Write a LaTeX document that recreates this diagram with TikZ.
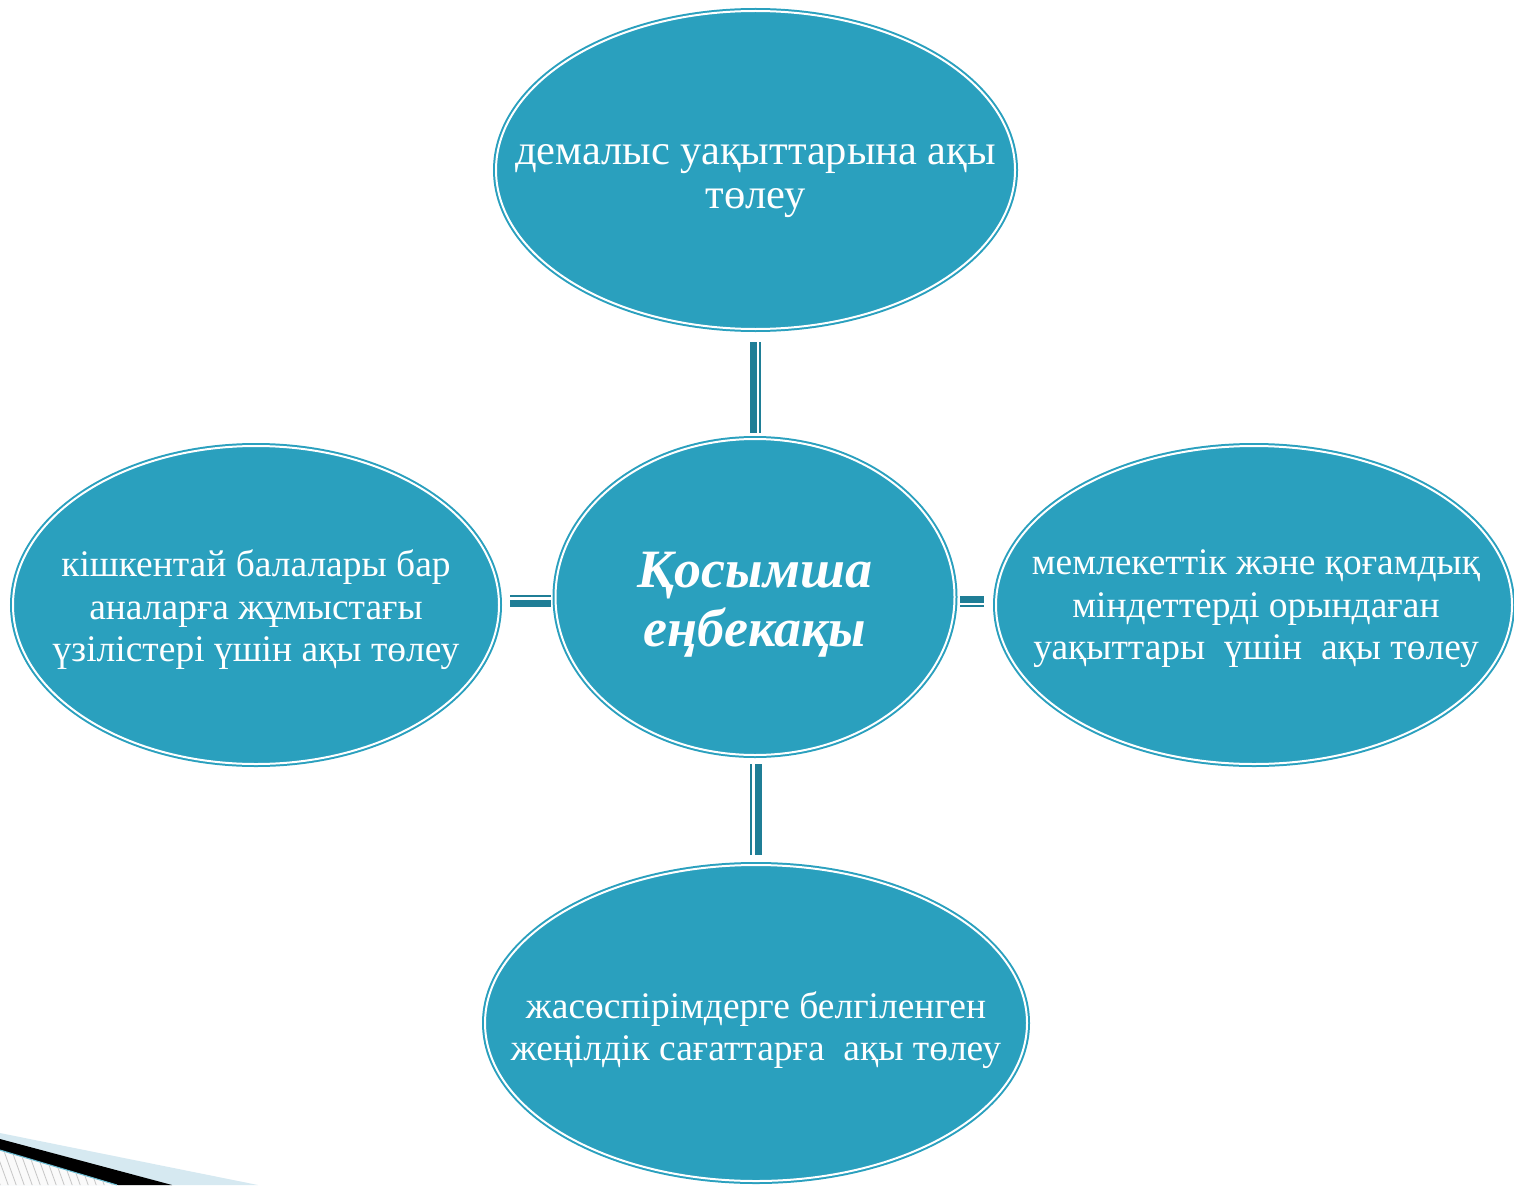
\documentclass[tikz,border=0pt]{standalone}
\usepackage{fontspec}
\setmainfont{Liberation Serif}
\usetikzlibrary{shapes.geometric}
\definecolor{elfill}{HTML}{2AA0BE}
\definecolor{conncol}{HTML}{1F7E96}
\definecolor{wedgeblue}{HTML}{D6E9F1}
\tikzset{
  oval/.style={ellipse, fill=elfill, draw=elfill, double=white, double distance=2pt, line width=2pt, inner sep=0pt},
  ovaltext/.style={text=white, align=center, font=\fontsize{37.5}{42.5}\selectfont, inner sep=0pt},
  toptextstyle/.style={text=white, align=center, font=\fontsize{42.5}{43.5}\selectfont, inner sep=0pt},
  centertext/.style={text=white, align=center, font=\fontsize{54}{59}\selectfont\bfseries\itshape, inner sep=0pt},
  thickline/.style={draw=conncol, line width=7pt},
  thinline/.style={draw=conncol, line width=2.5pt},
}
\begin{document}
\begin{tikzpicture}[x=1pt,y=-1pt]
\useasboundingbox (0,0) rectangle (1514,1185);
% bottom-left decoration
\fill[wedgeblue] (0,1133) -- (258,1185) -- (0,1185) -- cycle;
\fill[black] (0,1139) -- (172,1185) -- (118,1185) -- (0,1150) -- cycle;
\begin{scope}
\clip (0,1151) -- (115,1185) -- (0,1185) -- cycle;
\fill[white!96!gray] (0,1151) -- (115,1185) -- (0,1185) -- cycle;
\foreach \i in {-40,-32,...,120} {
  \draw[gray!45, line width=0.8pt] (\i,1140) -- (\i+18,1190);
}
\end{scope}
\draw[elfill!70, line width=1pt] (0,1150) -- (117,1185);

% ellipses
\node[oval, minimum width=519pt, minimum height=318pt] (top) at (755.5,170) {};
\node[oval, minimum width=399pt, minimum height=316pt] (cen) at (755,597) {};
\node[oval, minimum width=486pt, minimum height=318pt] (lft) at (256,605) {};
\node[oval, minimum width=516pt, minimum height=318pt] (rgt) at (1254,605) {};
\node[oval, minimum width=542pt, minimum height=316pt] (bot) at (756,1023) {};

% texts
\node[toptextstyle] (toptext) at (755.5,181) {демалыс уақыттарына ақы\\төлеу};
\node[centertext] (centext) at (755,605) {Қосымша\\еңбекақы};
\node[ovaltext] (lfttext) at (256,610) {кішкентай балалары бар\\аналарға жұмыстағы\\үзілістері үшін ақы төлеу};
\node[ovaltext] (rgttext) at (1256,609) {мемлекеттік және қоғамдық\\міндеттерді орындаған\\уақыттары\ \ үшін\ \ ақы төлеу};
\node[ovaltext] (bottext) at (756,1030) {жасөспірімдерге белгіленген\\жеңілдік сағаттарға\ \ ақы төлеу};

% connectors (thick-thin double lines)
% top
\draw[thickline] ([xshift=-2pt,yshift=-12pt]top.south) -- ([xshift=-1.5pt,yshift=5pt]cen.north);
\draw[thinline] ([xshift=4.5pt,yshift=-12pt]top.south) -- ([xshift=5pt,yshift=5pt]cen.north);
% bottom
\draw[thinline] ([xshift=-4pt,yshift=-8pt]cen.south) -- ([xshift=-5pt,yshift=9pt]bot.north);
\draw[thickline] ([xshift=3pt,yshift=-8pt]cen.south) -- ([xshift=2pt,yshift=9pt]bot.north);
% left
\draw[thinline] ([xshift=10pt,yshift=9pt]lft.east) -- ([xshift=-3.5pt,yshift=1pt]cen.west);
\draw[thickline] ([xshift=10pt,yshift=1.5pt]lft.east) -- ([xshift=-3.5pt,yshift=-6.5pt]cen.west);
% right
\draw[thickline] ([xshift=4.5pt,yshift=-2pt]cen.east) -- ([xshift=-11pt,yshift=6pt]rgt.west);
\draw[thinline] ([xshift=4.5pt,yshift=-9pt]cen.east) -- ([xshift=-11pt,yshift=-1pt]rgt.west);
\end{tikzpicture}
\end{document}
